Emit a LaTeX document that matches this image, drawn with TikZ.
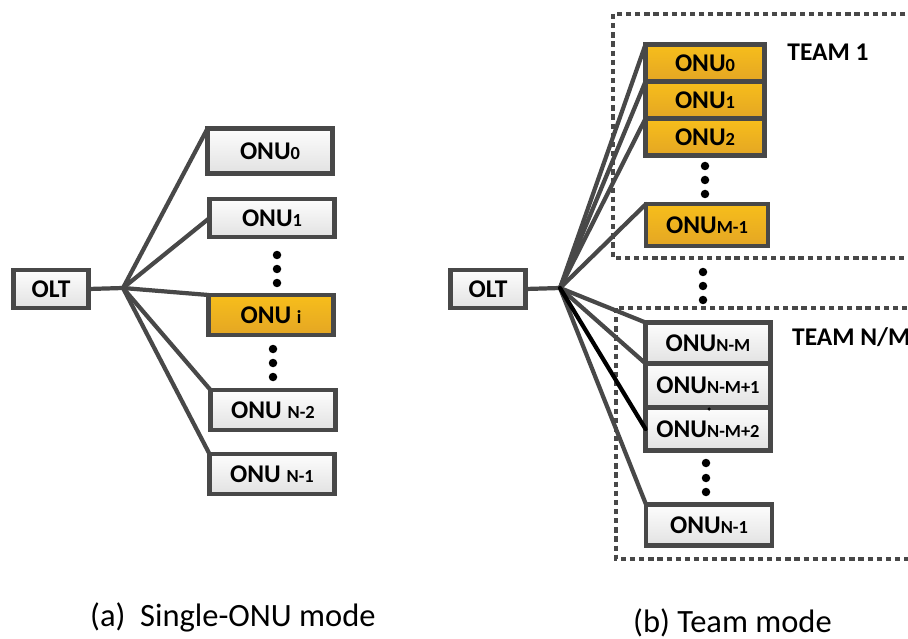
\documentclass[tikz,border=0pt]{standalone}
\usepackage{fontspec}
\setmainfont{Carlito}
\usetikzlibrary{positioning}
\definecolor{edgegray}{RGB}{72,72,72}
\definecolor{onuyellow}{RGB}{247,190,27}
\definecolor{onuamber}{RGB}{228,166,36}
\definecolor{boxlight}{RGB}{253,253,253}
\definecolor{boxshade}{RGB}{226,226,226}
\newcommand{\onu}[1]{ONU{\fontsize{10.5}{12}\selectfont #1}}

\begin{document}
\begin{tikzpicture}[x=0.02cm, y=-0.02cm,
            every node/.style={font=\bfseries\fontsize{14.5}{16}\selectfont},
            unit/.style={draw=edgegray, line width=2.5pt, outer sep=0pt,
            inner sep=0pt, top color=boxlight, bottom color=boxshade,
            minimum width=2.5cm, minimum height=0.8cm},
            hot/.style={unit, top color=onuyellow, bottom color=onuamber},
            fiber/.style={draw=edgegray, line width=2.4pt, line cap=round},
            team/.style={draw=edgegray, line width=2pt,
            dash pattern=on 3pt off 2.2pt},
            dot/.style={circle, fill=black, inner sep=0pt, minimum size=0.17cm},
            caption/.style={font=\fontsize{18.5}{22}\selectfont, anchor=base west}]
          \useasboundingbox (0,0) rectangle (908,638);
          % (a) single-ONU mode
          \node[unit, minimum width=1.5cm, minimum height=0.76cm] (olta) at (51,289) {OLT};
          \coordinate (spla) at (123,288);
          \node[unit, minimum height=0.9cm] (a0) at (270,151) {\onu{0}};
          \node[unit, minimum height=0.76cm] (a1) at (272,218) {\onu{1}};
          \node[hot] (ai) at (271,315) {ONU {\fontsize{10.5}{12}\selectfont i}};
          \node[unit] (an2) at (273,410) {ONU {\fontsize{10.5}{12}\selectfont N-2}};
          \node[unit] (an1) at (272,474) {ONU {\fontsize{10.5}{12}\selectfont N-1}};
          \foreach \y [count=\k] in {255,269,283}
            \node[dot] (da\k) at (277,\y) {};
          \foreach \y [count=\k] in {349,363,377}
            \node[dot] (db\k) at (273,\y) {};
          \draw[fiber] (olta.east) -- (spla);
          \foreach \t in {a0.north west, a1.west, ai.north west, an2.north west, an1.north west}
            \draw[fiber] (spla) -- (\t);
          % (b) team mode
          \draw[team] (613,14) rectangle (940,258);
          \draw[team] (616,308) rectangle (940,559);
          \node[unit, minimum width=1.5cm, minimum height=0.76cm] (oltb) at (488,289) {OLT};
          \coordinate (splb) at (560,288);
          \node[hot, minimum width=2.38cm, minimum height=0.74cm] (b0) at (705,63) {\onu{0}};
          \node[hot, minimum width=2.38cm, minimum height=0.74cm, below=0pt of b0] (b1) {\onu{1}};
          \node[hot, minimum width=2.38cm, minimum height=0.74cm, below=0pt of b1] (b2) {\onu{2}};
          \node[hot, minimum width=2.44cm, minimum height=0.84cm] (bm1) at (707,225) {\onu{M-1}};
          \node (team1) at (828,52) {TEAM 1};
          \foreach \y [count=\k] in {166,180,194}
            \node[dot] (dc\k) at (705,\y) {};
          \foreach \y [count=\k] in {272,286,300}
            \node[dot] (dd\k) at (703,\y) {};
          \node[unit, minimum height=0.82cm] (bnm) at (708,343) {\onu{N-M}};
          \node[unit, minimum height=0.88cm, below=0pt of bnm] (bnm1) {\onu{N-M+1}};
          \node[unit, minimum height=0.86cm, below=0pt of bnm1] (bnm2) {\onu{N-M+2}};
          \node[circle, fill=black, inner sep=0pt, minimum size=2pt] (speck) at (709,409) {};
          \foreach \y [count=\k] in {463,478,492}
            \node[dot] (de\k) at (706,\y) {};
          \node[unit, minimum width=2.52cm, minimum height=0.82cm] (bn1) at (709,525) {\onu{N-1}};
          \node[anchor=west] (teamn) at (786,337) {TEAM N/M};
          \draw[fiber] (oltb.east) -- (splb);
          \foreach \t in {b0.north west, b1.north west, b2.north west, bm1.north west,
                          bnm.north west, bnm1.north west, bn1.north west}
            \draw[fiber] (splb) -- (\t);
          \draw[fiber, draw=black] (splb) -- (bnm2.west);
          % captions
          \node[caption] (capa) at (84,626) {(a)\ \ Single-ONU mode};
          \node[caption] (capb) at (627,632) {(b) Team mode};
        \end{tikzpicture}
\end{document}
